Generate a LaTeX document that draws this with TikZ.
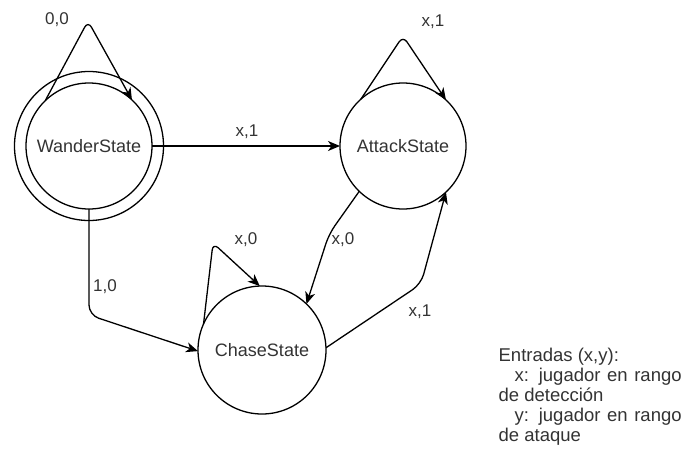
\documentclass[tikz,border=0pt]{standalone}
\usepackage{fontspec}
\setmainfont{Liberation Sans}
\usetikzlibrary{arrows.meta}
\begin{document}
\begin{tikzpicture}[x=1pt,y=-1pt,
  line width=1.3pt,
  state/.style={circle,draw,minimum size=126pt,inner sep=0pt,outer sep=0pt,
    text=black!80,font=\fontsize{18}{20}\selectfont},
  ring/.style={circle,draw,minimum size=149pt,inner sep=0pt,outer sep=0pt},
  arr/.style={-{Stealth[length=12pt,width=10pt,inset=3.5pt]}},
  lbl/.style={text=black!80,font=\fontsize{17}{19}\selectfont,inner sep=0pt},
  legend/.style={anchor=base west,inner sep=0pt,text=black!80,
    font=\fontsize{18.5}{20}\selectfont}]
\useasboundingbox (0,0) rectangle (683,448);

% states
\node[state] (W) at (89,146) {WanderState};
\node[ring] (Wo) at (89,146) {};
\node[state] (A) at (403,146) {AttackState};
\node[state,minimum size=128pt] (C) at (262,350) {ChaseState};

% transitions
\draw[arr] (W.east) -- (A.west);
\draw[arr,rounded corners=7pt] (W.134) -- (88,21) -- (W.47);
\draw[arr,rounded corners=7pt] (A.132) -- (403,36) -- (A.47);
\draw[arr,rounded corners=7pt] (C.156) -- (213,243) -- (C.92);
\draw[arr,rounded corners=10pt] (W.south) -- (89,315) -- (C.181);
\draw[arr,rounded corners=10pt] (A.226) -- (329,234) -- (C.46);
\draw[arr,rounded corners=10pt] (C.2) -- (421,284) -- (A.313);

% transition labels
\node[lbl] (l00) at (57,20) {0,0};
\node[lbl] (lwa) at (247,132) {x,1};
\node[lbl] (laa) at (433,22) {x,1};
\node[lbl] (lac) at (343,240) {x,0};
\node[lbl] (lca) at (420,312) {x,1};
\node[lbl] (lcc) at (246,240) {x,0};
\node[lbl] (lwc) at (105,287) {1,0};

% inputs legend
\node[legend] (e1) at (498,361) {Entradas (x,y):};
\node[legend] (e2) at (514,381) {\makebox[167pt][s]{x: jugador en rango}};
\node[legend] (e3) at (498,401) {de detección};
\node[legend] (e4) at (514,421) {\makebox[167pt][s]{y: jugador en rango}};
\node[legend] (e5) at (498,441) {de ataque};
\end{tikzpicture}
\end{document}
